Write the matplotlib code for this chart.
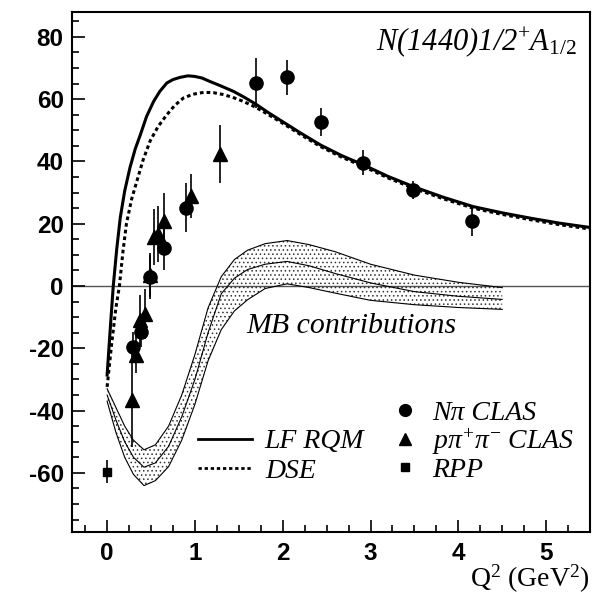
import matplotlib
matplotlib.use("Agg")
import matplotlib.pyplot as plt
from matplotlib.lines import Line2D
from matplotlib.ticker import MultipleLocator

plt.rcParams["axes.unicode_minus"] = False
plt.rcParams["mathtext.fontset"] = "custom"
plt.rcParams["mathtext.rm"] = "Liberation Serif"
plt.rcParams["mathtext.it"] = "Liberation Serif:italic"
plt.rcParams["mathtext.bf"] = "Liberation Serif:bold"
plt.rcParams["hatch.color"] = "#333333"
plt.rcParams["hatch.linewidth"] = 0.6

# N pi CLAS data
npi_q2 = [0.30, 0.39, 0.49, 0.65, 0.90, 1.70, 2.05, 2.44, 2.91, 3.48, 4.16]
npi_a = [-19.7, -14.7, 2.9, 12.2, 25.2, 65.2, 67.0, 52.7, 39.6, 30.8, 21.0]
npi_err = [5.0, 5.0, 7.0, 7.0, 8.0, 8.0, 5.5, 4.4, 4.0, 3.0, 5.0]

# p pi+ pi- CLAS data
ppp_q2 = [0.28, 0.33, 0.38, 0.43, 0.49, 0.53, 0.58, 0.65, 0.95, 1.29]
ppp_a = [-36.6, -22.0, -11.0, -9.0, 3.5, 15.6, 16.7, 21.0, 29.0, 42.4]
ppp_err = [15.0, 6.0, 8.0, 8.0, 7.0, 9.0, 9.0, 9.0, 7.0, 9.3]

# RPP
rpp_q2 = [0.0]
rpp_a = [-59.7]
rpp_err = [3.7]

# LF RQM curve
lf_q2 = [0.0, 0.03, 0.07, 0.11, 0.15, 0.2, 0.26, 0.32, 0.38, 0.45, 0.53, 0.6,
         0.68, 0.75, 0.83, 0.92, 1.0, 1.08, 1.17, 1.3, 1.44, 1.57, 1.7, 1.83,
         1.97, 2.2, 2.43, 2.67, 2.92, 3.2, 3.49, 3.83, 4.17, 4.5, 4.82, 5.15, 5.5]
lf_a = [-28.6, -16.0, 0.0, 12.0, 22.0, 30.5, 38.0, 44.0, 48.7, 54.5, 59.3, 62.5,
        65.2, 66.3, 67.0, 67.5, 67.3, 66.8, 65.7, 64.2, 62.5, 60.5, 58.3, 55.8,
        53.3, 49.2, 45.3, 41.9, 38.9, 35.2, 31.9, 28.5, 25.5, 23.5, 21.8, 20.2, 18.8]

# DSE curve
dse_q2 = [0.0, 0.05, 0.1, 0.14, 0.18, 0.22, 0.28, 0.34, 0.41, 0.49, 0.58, 0.68,
          0.77, 0.87, 0.98, 1.1, 1.21, 1.32, 1.43, 1.55, 1.65, 1.75, 1.85, 1.97,
          2.2, 2.43, 2.67, 2.92, 3.2, 3.49, 3.83, 4.17, 4.5, 4.82, 5.15, 5.5]
dse_a = [-32.4, -19.0, -7.0, 0.0, 11.0, 20.0, 28.0, 33.8, 40.5, 46.6, 51.2, 55.0,
         58.0, 60.4, 61.6, 62.2, 62.1, 61.5, 60.6, 59.3, 58.0, 56.5, 54.8, 52.8,
         48.7, 44.8, 41.4, 38.4, 34.7, 31.4, 28.0, 25.0, 23.0, 21.3, 19.7, 18.3]

# MB contributions band
mb_q2 = [0.0, 0.1, 0.2, 0.3, 0.42, 0.55, 0.7, 0.85, 1.0, 1.15, 1.3, 1.45, 1.6,
         1.8, 2.05, 2.3, 2.6, 3.0, 3.5, 4.0, 4.5]
mb_mid = [-35.0, -43.0, -50.0, -55.0, -58.2, -56.8, -51.5, -42.0, -30.0, -15.0,
          -2.5, 2.5, 5.3, 7.0, 7.9, 6.5, 4.0, 1.0, -1.8, -3.3, -4.3]
mb_top = [-33.0, -39.0, -45.0, -49.5, -52.6, -51.0, -45.0, -35.0, -22.0, -7.0,
          3.0, 8.5, 11.5, 13.6, 14.6, 13.3, 11.0, 7.0, 3.5, 1.2, -0.5]
mb_bot = [-37.0, -47.0, -55.0, -60.5, -64.1, -62.5, -58.0, -49.5, -38.0, -24.0,
          -14.0, -8.0, -4.4, -0.8, 0.7, -0.5, -2.3, -4.6, -6.0, -6.9, -7.5]

serif = "Liberation Serif"

fig = plt.figure(figsize=(5.92, 5.94), dpi=100)
ax = fig.add_axes([72 / 592, 62 / 594, 518 / 592, 520 / 594])

ax.axhline(0, color="#555555", lw=1.0, zorder=1)

# band
ax.fill_between(mb_q2, mb_bot, mb_top, facecolor="none", edgecolor="#333333",
                hatch="....", lw=0, zorder=2)
for band_line in (mb_top, mb_mid, mb_bot):
    ax.plot(mb_q2, band_line, color="black", lw=0.8, zorder=3)

ax.plot(lf_q2, lf_a, color="black", lw=2.2, zorder=4)
ax.plot(dse_q2, dse_a, color="black", lw=2.2, ls=(0, (1.2, 1.0)), zorder=4)

ax.errorbar(npi_q2, npi_a, yerr=npi_err, fmt="o", color="black", ms=9.5,
            elinewidth=1.2, capsize=0, zorder=5)
ax.errorbar(ppp_q2, ppp_a, yerr=ppp_err, fmt="^", color="black", ms=9.5,
            elinewidth=1.2, capsize=0, zorder=5)
ax.errorbar(rpp_q2, rpp_a, yerr=rpp_err, fmt="s", color="black", ms=6,
            elinewidth=1.2, capsize=0, zorder=5)

ax.set_xlim(-0.4, 5.5)
ax.set_ylim(-79, 88)
ax.xaxis.set_major_locator(MultipleLocator(1))
ax.xaxis.set_minor_locator(MultipleLocator(0.25))
ax.yaxis.set_major_locator(MultipleLocator(20))
ax.yaxis.set_minor_locator(MultipleLocator(5))
ax.tick_params(which="both", direction="in", top=False, right=False, width=1.2)
ax.tick_params(which="major", length=9)
ax.tick_params(which="minor", length=5)
ax.tick_params(axis="x", pad=7)
ax.tick_params(axis="y", pad=6)
for lab in ax.get_xticklabels() + ax.get_yticklabels():
    lab.set_fontfamily("Liberation Sans")
    lab.set_fontweight("bold")
    lab.set_fontsize(17.5)
for sp in ax.spines.values():
    sp.set_linewidth(1.5)

ax.text(1.0, -0.09, r"Q$^2$ (GeV$^2$)", transform=ax.transAxes, ha="right",
        va="center", fontsize=20, family=serif)

ax.text(0.975, 0.927, r"N(1440)1/2$^{+}$A$_{\mathit{1/2}}$", transform=ax.transAxes,
        ha="right", va="baseline", fontsize=22, family=serif, style="italic")

ax.text(0.54, 0.383, "MB contributions", transform=ax.transAxes, ha="center",
        va="baseline", fontsize=21.5, family=serif, style="italic")

line_handles = [
    Line2D([], [], color="black", lw=2.0),
    Line2D([], [], color="black", lw=2.0, ls=(0, (1.2, 1.0))),
]
leg1 = ax.legend(line_handles, ["LF RQM", "DSE"], loc="upper left",
                 bbox_to_anchor=(0.243, 0.198), frameon=False, borderpad=0,
                 borderaxespad=0, handlelength=1.94, handletextpad=0.47,
                 labelspacing=0.15, prop={"family": serif, "style": "italic", "size": 20})
ax.add_artist(leg1)

marker_handles = [
    Line2D([], [], color="black", marker="o", ls="none", ms=8.5),
    Line2D([], [], color="black", marker="^", ls="none", ms=8.5),
    Line2D([], [], color="black", marker="s", ls="none", ms=6),
]
ax.legend(marker_handles, ["Nπ CLAS", r"p$\pi^{+}\pi^{-}$ CLAS", "RPP"],
          loc="upper left", bbox_to_anchor=(0.616, 0.253), frameon=False,
          borderpad=0, borderaxespad=0, handlelength=1.0, handletextpad=0.47,
          labelspacing=0.02, prop={"family": serif, "style": "italic", "size": 20})

fig.savefig("out.png", dpi=100)
